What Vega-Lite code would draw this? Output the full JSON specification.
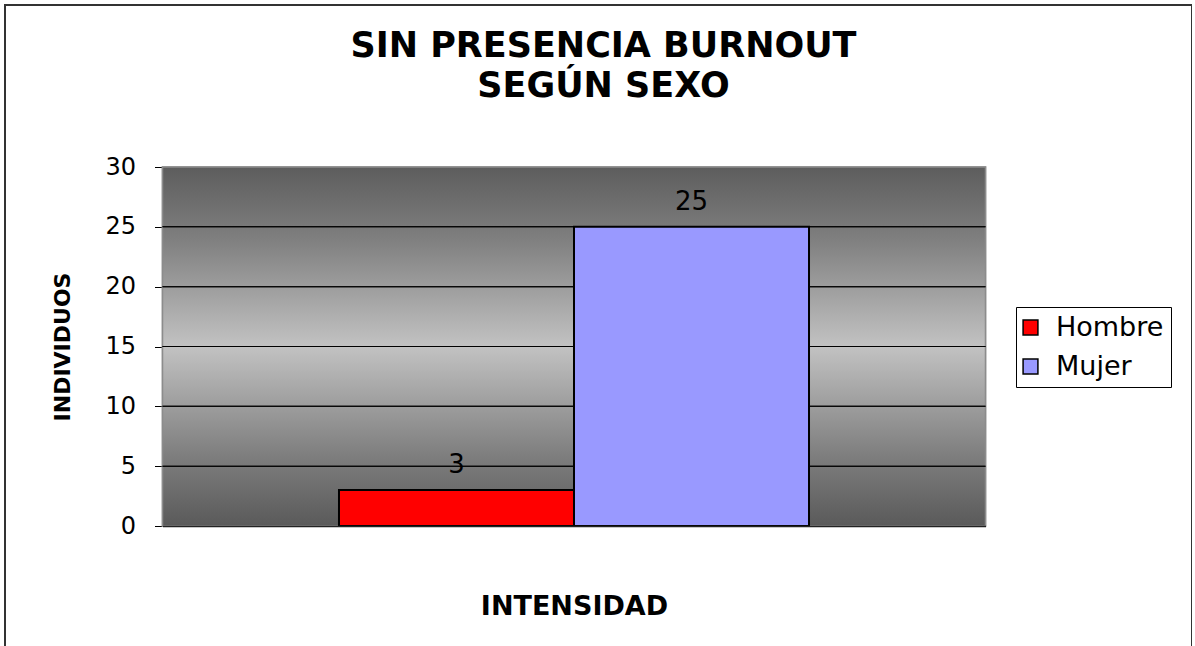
{
  "$schema": "https://vega.github.io/schema/vega-lite/v6.json",
  "width": 1187,
  "height": 645,
  "autosize": {"type": "none"},
  "padding": {"left": 5, "top": 5, "right": 0, "bottom": 0},
  "background": "#ffffff",
  "title": {
    "text": ["SIN PRESENCIA BURNOUT", "SEGÚN SEXO"],
    "anchor": "middle",
    "frame": "group",
    "offset": -99,
    "font": "DejaVu Sans",
    "fontSize": 35,
    "fontWeight": "bold",
    "lineHeight": 40,
    "color": "#000000",
    "dx": 5
  },
  "data": {
    "values": [
      {"grupo": "", "sexo": "Hombre", "individuos": 3},
      {"grupo": "", "sexo": "Mujer", "individuos": 25}
    ]
  },
  "encoding": {
    "x": {
      "field": "grupo",
      "type": "nominal",
      "scale": {"range": [157.5, 980.5], "paddingInner": 0, "paddingOuter": 0},
      "axis": {
        "title": "INTENSIDAD",
        "labels": false,
        "ticks": false,
        "grid": false,
        "domain": true,
        "domainColor": "#222222",
        "domainWidth": 1.5,
        "offset": -124,
        "titleFont": "DejaVu Sans",
        "titleFontSize": 27,
        "titleFontWeight": "bold",
        "titleColor": "#000000",
        "titlePadding": 67
      }
    }
  },
  "layer": [
    {
      "mark": {
        "type": "rect",
        "fill": {
          "gradient": "linear",
          "x1": 0, "y1": 0, "x2": 0, "y2": 1,
          "stops": [
            {"offset": 0, "color": "#5d5d5d"},
            {"offset": 0.2, "color": "#7f7f7f"},
            {"offset": 0.5, "color": "#c2c2c2"},
            {"offset": 0.8, "color": "#7f7f7f"},
            {"offset": 1, "color": "#5a5a5a"}
          ]
        },
        "stroke": "#8c8c8c",
        "strokeWidth": 1.5
      },
      "encoding": {
        "y": {"datum": 0, "type": "quantitative"},
        "y2": {"datum": 30}
      }
    },
    {"mark": {"type": "tick", "color": "#000000", "thickness": 1, "size": 823, "opacity": 1}, "encoding": {"y": {"datum": 5, "type": "quantitative"}}},
    {"mark": {"type": "tick", "color": "#000000", "thickness": 1, "size": 823, "opacity": 1}, "encoding": {"y": {"datum": 10, "type": "quantitative"}}},
    {"mark": {"type": "tick", "color": "#000000", "thickness": 1, "size": 823, "opacity": 1}, "encoding": {"y": {"datum": 15, "type": "quantitative"}}},
    {"mark": {"type": "tick", "color": "#000000", "thickness": 1, "size": 823, "opacity": 1}, "encoding": {"y": {"datum": 20, "type": "quantitative"}}},
    {"mark": {"type": "tick", "color": "#000000", "thickness": 1, "size": 823, "opacity": 1}, "encoding": {"y": {"datum": 25, "type": "quantitative"}}},
    {
      "mark": {"type": "bar", "stroke": "#000000", "strokeWidth": 2},
      "encoding": {
        "xOffset": {"field": "sexo", "type": "nominal", "scale": {"paddingInner": 0, "paddingOuter": 0.751}},
        "y": {
          "field": "individuos",
          "type": "quantitative",
          "scale": {"domain": [0, 30], "range": [521, 162], "nice": false, "zero": true},
          "axis": {
            "title": "INDIVIDUOS",
            "values": [0, 5, 10, 15, 20, 25, 30],
            "offset": -157.5,
            "grid": false,
            "domain": false,
            "ticks": true,
            "tickSize": 8,
            "tickColor": "#000000",
            "tickWidth": 1,
            "labelFont": "DejaVu Sans",
            "labelFontSize": 24,
            "labelColor": "#000000",
            "labelPadding": 19,
            "labelFlush": false,
            "titleFont": "DejaVu Sans",
            "titleFontSize": 22,
            "titleFontWeight": "bold",
            "titleColor": "#000000",
            "titlePadding": 30
          }
        },
        "color": {
          "field": "sexo",
          "type": "nominal",
          "scale": {"domain": ["Hombre", "Mujer"], "range": ["#ff0000", "#9999ff"]},
          "legend": {
            "orient": "none",
            "legendX": 1011,
            "legendY": 302,
            "title": null,
            "strokeColor": "#000000",
            "fillColor": "#ffffff",
            "padding": 7,
            "cornerRadius": 0,
            "symbolType": "square",
            "symbolSize": 220,
            "symbolStrokeColor": "#000000",
            "symbolStrokeWidth": 1.5,
            "symbolOffset": -6,
            "labelFont": "DejaVu Sans",
            "labelFontSize": 27,
            "labelColor": "#000000",
            "labelOffset": 12,
            "rowPadding": 11
          }
        }
      }
    },
    {
      "mark": {"type": "text", "baseline": "alphabetic", "dy": -17, "font": "DejaVu Sans", "fontSize": 26, "color": "#000000"},
      "encoding": {
        "xOffset": {"field": "sexo", "type": "nominal"},
        "y": {"field": "individuos", "type": "quantitative"},
        "text": {"field": "individuos", "type": "quantitative"}
      }
    }
  ],
  "config": {
    "view": {"stroke": "#333333", "strokeWidth": 2, "fill": "#ffffff"}
  }
}
